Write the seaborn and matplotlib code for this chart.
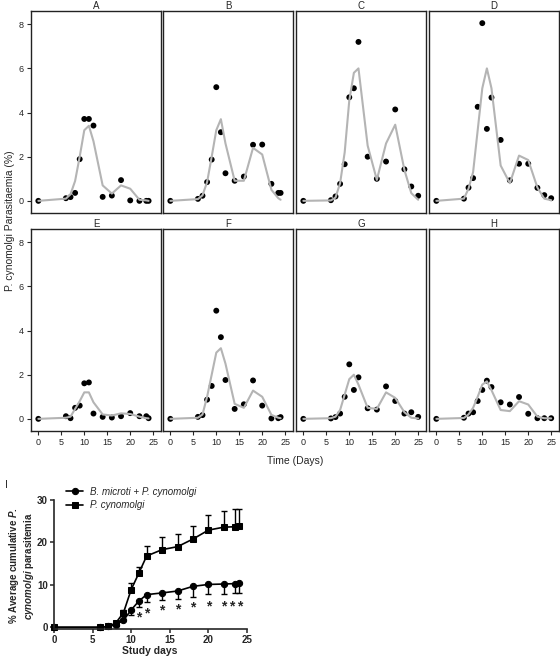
import numpy as np
import pandas as pd
import matplotlib
matplotlib.use("Agg")
import matplotlib.pyplot as plt
import seaborn as sns

# ---- data ----
days_ab = [0, 6, 7, 8, 9, 10, 11, 12, 14, 16, 18, 20, 22, 23.5, 24]
days_cd = [0, 6, 7, 8, 9, 10, 11, 12, 14, 16, 18, 20, 22, 23.5, 25]

panel_names = ['A', 'B', 'C', 'D', 'E', 'F', 'G', 'H']

a_obs = [0, 0.12, 0.17, 0.36, 1.89, 3.71, 3.71, 3.41, 0.18, 0.24, 0.94, 0.02, 0, 0, 0]
a_fit = [0, 0.1, 0.3, 0.9, 2.0, 3.2, 3.4, 2.7, 0.7, 0.33, 0.7, 0.55, 0.05, 0.02, 0]
b_obs = [0, 0.09, 0.23, 0.85, 1.87, 5.15, 3.11, 1.25, 0.91, 1.10, 2.54, 2.55, 0.77, 0.36, 0.36]
b_fit = [0, 0.08, 0.25, 0.85, 2.0, 3.2, 3.7, 2.6, 0.91, 0.91, 2.4, 2.1, 0.5, 0.12, 0.05]
c_obs = [0, 0.03, 0.2, 0.77, 1.66, 4.69, 5.1, 7.2, 2.0, 1.0, 1.78, 4.14, 1.43, 0.65, 0.23]
c_fit = [0, 0.02, 0.15, 0.8, 2.2, 4.55, 5.8, 6.0, 2.5, 0.95, 2.6, 3.45, 1.4, 0.35, 0.05]
d_obs = [0, 0.1, 0.6, 1.03, 4.26, 8.05, 3.26, 4.68, 2.76, 0.93, 1.68, 1.68, 0.59, 0.26, 0.12]
d_fit = [0, 0.1, 0.55, 1.3, 3.2, 5.1, 6.0, 5.1, 1.6, 0.8, 2.05, 1.85, 0.6, 0.1, 0.03]
e_obs = [0, 0.12, 0.03, 0.5, 0.6, 1.61, 1.65, 0.24, 0.09, 0.06, 0.12, 0.26, 0.12, 0.12, 0.03]
e_fit = [0, 0.05, 0.1, 0.45, 0.8, 1.2, 1.2, 0.75, 0.2, 0.15, 0.25, 0.22, 0.1, 0.03, 0.02]
f_obs = [0, 0.09, 0.17, 0.87, 1.49, 4.9, 3.7, 1.76, 0.45, 0.66, 1.74, 0.6, 0.02, 0.03, 0.08]
f_fit = [0, 0.05, 0.2, 1.0, 2.0, 3.0, 3.2, 2.5, 0.68, 0.5, 1.28, 1.0, 0.18, 0.05, 0.03]
g_obs = [0, 0.02, 0.08, 0.24, 1.0, 2.47, 1.31, 1.88, 0.48, 0.42, 1.47, 0.81, 0.24, 0.3, 0.09]
g_fit = [0, 0.03, 0.1, 0.4, 1.1, 1.8, 2.0, 1.55, 0.5, 0.45, 1.2, 0.95, 0.3, 0.05, 0.02]
h_obs = [0, 0.05, 0.24, 0.3, 0.81, 1.31, 1.73, 1.44, 0.75, 0.65, 0.99, 0.23, 0.03, 0.03, 0.03]
h_fit = [0, 0.04, 0.2, 0.5, 1.0, 1.55, 1.7, 1.3, 0.4, 0.35, 0.8, 0.65, 0.1, 0.03, 0.02]

obs_all = [a_obs, b_obs, c_obs, d_obs, e_obs, f_obs, g_obs, h_obs]
fit_all = [a_fit, b_fit, c_fit, d_fit, e_fit, f_fit, g_fit, h_fit]

# panel I: cumulative parasitaemia
cum_days = [0, 6, 7, 8, 9, 10, 11, 12, 14, 16, 18, 20, 22, 23.5, 24]
coinf_mean = [0, 0, 0.2, 0.6, 1.65, 4.1, 6.2, 7.7, 8.1, 8.55, 9.65, 10.1, 10.2, 10.3, 10.35]
coinf_low = [0, 0, 0.2, 0.5, 1.4, 2.8, 4.9, 5.9, 6.5, 6.6, 7.2, 7.8, 7.9, 8.0, 8.0]
pc_mean = [0, 0, 0.2, 1.0, 3.45, 8.9, 12.8, 16.8, 18.3, 19.0, 20.8, 22.9, 23.6, 23.7, 23.9]
pc_high = [0, 0, 0.3, 1.2, 4.0, 10.5, 14.3, 19.2, 21.2, 22.1, 23.9, 26.5, 27.5, 27.8, 27.9]
star_days = [11, 12, 14, 16, 18, 20, 22, 23, 24]
star_y = [3.1, 4.2, 4.9, 5.1, 5.6, 5.8, 5.8, 5.8, 5.8]

# ---- style ----
sns.set_style("ticks")
plt.rcParams['font.family'] = ['Liberation Sans', 'DejaVu Sans']
plt.rcParams['mathtext.fontset'] = 'custom'
plt.rcParams['mathtext.it'] = 'Liberation Sans:italic:bold'
plt.rcParams['mathtext.rm'] = 'Liberation Sans:bold'

W, H = 560, 658
fig = plt.figure(figsize=(W / 100, H / 100), dpi=100)


def px_axes(l, t, r, b):
    return fig.add_axes([l / W, 1 - b / H, (r - l) / W, (b - t) / H])


lefts = [31, 163, 296, 429]
rows = [(11, 213), (229, 431)]
for i, name in enumerate(panel_names):
    r, c = divmod(i, 4)
    ax = px_axes(lefts[c], rows[r][0], lefts[c] + 130, rows[r][1])
    d = days_ab if c < 2 else days_cd
    df = pd.DataFrame({'day': d, 'obs': obs_all[i], 'fit': fit_all[i]})
    sns.scatterplot(data=df, x='day', y='obs', color='black', s=18,
                    edgecolor='none', ax=ax, zorder=2)
    sns.lineplot(data=df, x='day', y='fit', color='#b4b4b4', lw=1.5,
                 ax=ax, zorder=3)
    ax.set_xlim(-1.6, 26.7)
    ax.set_ylim(-0.55, 8.6)
    ax.set_title(name, fontsize=7, pad=1.5)
    ax.set_xlabel('')
    ax.set_ylabel('')
    ax.set_xticks([0, 5, 10, 15, 20, 25])
    ax.set_yticks([0, 2, 4, 6, 8])
    ax.tick_params(direction='out', length=3, width=0.8, labelsize=6.5, pad=2)
    if c != 0:
        ax.tick_params(axis='y', left=False, labelleft=False)
    if r != 1:
        ax.tick_params(axis='x', bottom=False, labelbottom=False)
    for sp in ax.spines.values():
        sp.set_linewidth(1)
        sp.set_color('#222222')

fig.text(295 / W, 1 - 461 / H, 'Time (Days)', ha='center', va='center', fontsize=7.5)
fig.text(10 / W, 1 - 221 / H, 'P. cynomolgi Parasitaemia (%)', rotation=90,
         ha='center', va='center', fontsize=7.5)

# ---- panel I ----
ax = px_axes(54, 500, 247, 629)
dfi = pd.DataFrame({'day': cum_days, 'coinf': coinf_mean, 'pc': pc_mean})
zeros = np.zeros(len(cum_days))
ax.errorbar(cum_days, coinf_mean,
            yerr=[np.array(coinf_mean) - np.array(coinf_low), zeros],
            fmt='none', ecolor='black', elinewidth=1, capsize=2.5, capthick=1,
            clip_on=False)
ax.errorbar(cum_days, pc_mean,
            yerr=[zeros, np.array(pc_high) - np.array(pc_mean)],
            fmt='none', ecolor='black', elinewidth=1, capsize=2.5, capthick=1,
            clip_on=False)
sns.lineplot(data=dfi, x='day', y='coinf', color='black', marker='o', ms=4.5,
             mec='black', lw=1.2, ax=ax, label='B. microti + P. cynomolgi',
             clip_on=False)
sns.lineplot(data=dfi, x='day', y='pc', color='black', marker='s', ms=4.2,
             mec='black', lw=1.2, ax=ax, label='P. cynomolgi', clip_on=False)
# asterisk glyph sits high in its box, so nudge it down
for sx, sy in zip(star_days, star_y):
    ax.text(sx, sy - 0.9, '*', ha='center', va='center', fontsize=10,
            fontweight='bold')

ax.set_xlim(0, 25)
ax.set_ylim(-0.4, 30)
ax.set_xticks([0, 5, 10, 15, 20, 25])
ax.set_yticks([0, 10, 20, 30])
ax.spines['top'].set_visible(False)
ax.spines['right'].set_visible(False)
ax.spines['left'].set_bounds(0, 30)
for sp in ['left', 'bottom']:
    ax.spines[sp].set_linewidth(1.2)
ax.tick_params(direction='out', length=3, width=1.1, labelsize=7, pad=1.5)
for lab in ax.get_xticklabels() + ax.get_yticklabels():
    lab.set_fontweight('bold')
ax.set_xlabel('')
ax.set_ylabel('')
fig.text(150 / W, 1 - 651 / H, 'Study days', ha='center', va='center',
         fontsize=7.5, fontweight='bold')
fig.text(22 / W, 1 - 566 / H,
         '% Average cumulative $\\mathit{P.}$\n$\\mathit{cynomolgi}$ parasitemia',
         rotation=90, ha='center', va='center', fontsize=7, fontweight='bold',
         linespacing=1.1)

leg = ax.legend(loc='upper left', bbox_to_anchor=(62 / W, 1 - 483 / H),
                bbox_transform=fig.transFigure, frameon=False,
                prop={'style': 'italic', 'size': 7}, handlelength=1.8,
                handletextpad=0.7, labelspacing=0.35, borderaxespad=0)

fig.text(5 / W, 1 - 485 / H, 'I', fontsize=7.5, va='center')

fig.savefig('out.png', dpi=100)
